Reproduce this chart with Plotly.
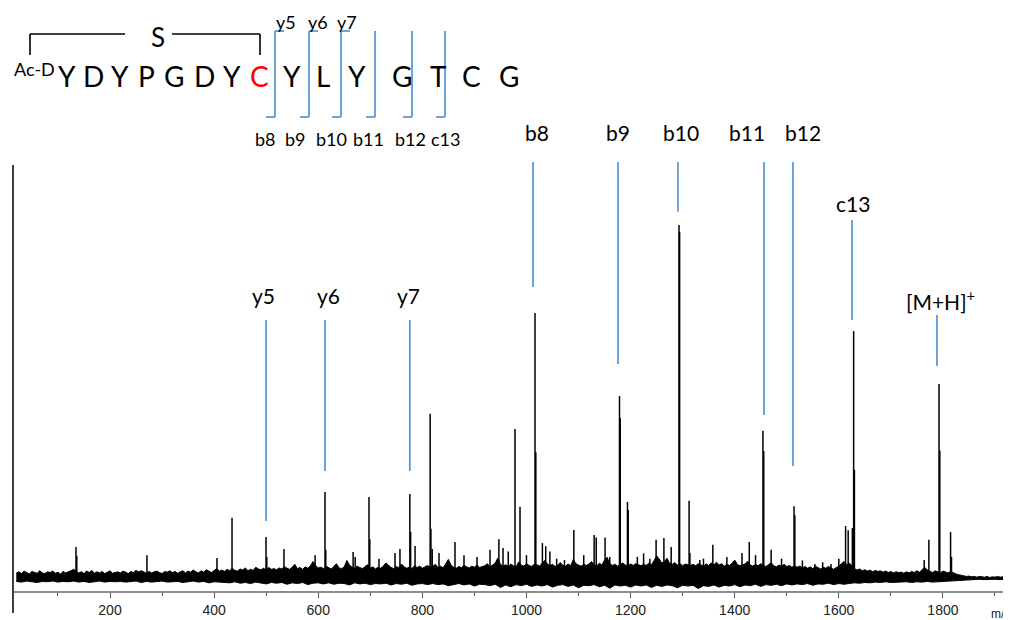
import plotly.graph_objects as go

# ---------------- data (relative intensity, b10 = 100) ----------------
# upper edge of the noise band
noise_mz = list(range(20, 1925, 5))
noise_int = [
    2.0, 2.3, 1.8, 2.5, 2.1, 1.7, 2.4, 2.2, 1.9, 2.6, 2.0, 1.8, 2.3, 2.1, 2.5, 1.9, 2.2, 1.7, 2.4, 2.0,
    2.2, 2.6, 3.0, 2.4, 2.0, 2.3, 1.8, 2.5, 2.1, 2.7, 1.9, 2.3, 2.0, 2.4, 1.8, 2.2, 2.6, 1.9, 2.1, 2.3,
    2.0, 2.5, 2.2, 1.8, 2.4, 2.1, 2.7, 2.3, 2.6, 2.2, 1.9, 2.4, 2.0, 2.3, 2.5, 2.1, 1.8, 2.4, 2.2, 2.6,
    2.1, 2.4, 1.9, 2.3, 2.6, 2.0, 2.5, 2.2, 2.8, 2.3, 2.0, 2.6, 2.2, 2.9, 2.4, 2.1, 2.7, 3.2, 2.5, 2.8,
    2.4, 3.0, 2.6, 3.3, 2.7, 2.5, 3.1, 2.8, 3.4, 2.6, 3.0, 2.7, 3.6, 3.1, 2.9, 3.3, 2.8, 3.5, 3.0, 3.2,
    2.9, 3.4, 3.1, 3.8, 3.3, 3.0, 3.6, 4.4, 3.2, 3.5, 3.0, 3.7, 3.3, 4.0, 5.2, 4.1, 3.4, 3.6, 3.2, 3.9,
    3.5, 3.1, 3.8, 4.6, 3.4, 3.2, 3.7, 5.5, 4.2, 3.6, 3.3, 3.9, 3.5, 3.2, 3.8, 4.3, 3.4, 3.7, 3.1, 3.6,
    3.3, 3.9, 4.8, 4.2, 3.5, 3.2, 3.8, 3.4, 4.5, 3.7, 3.3, 3.6, 3.2, 4.0, 3.5, 3.9, 3.3, 3.7, 4.1, 3.6,
    3.8, 4.4, 3.5, 3.9, 3.4, 4.6, 5.8, 4.2, 3.6, 3.3, 3.8, 3.5, 4.1, 3.7, 3.4, 3.9, 3.6, 4.3, 3.5, 3.8,
    4.0, 4.6, 3.7, 4.2, 4.8, 6.2, 4.4, 3.9, 4.3, 3.8, 4.5, 4.0, 3.7, 5.1, 4.2, 3.9, 4.6, 4.1, 3.8, 4.4,
    4.3, 3.9, 4.7, 5.5, 4.6, 4.0, 4.4, 3.8, 4.2, 4.9, 4.1, 3.9, 4.5, 4.0, 5.8, 4.6, 4.2, 3.9, 4.4, 4.1,
    4.5, 5.2, 4.3, 4.0, 4.7, 4.2, 5.6, 6.4, 4.6, 4.1, 4.4, 3.9, 4.3, 4.8, 4.2, 4.0, 4.5, 4.1, 4.6, 4.3,
    4.0, 4.4, 4.1, 4.7, 4.3, 5.4, 6.8, 5.9, 4.8, 5.2, 6.1, 4.7, 4.4, 4.9, 4.2, 4.6, 4.0, 4.5, 4.3, 4.1,
    4.4, 4.0, 4.6, 4.2, 3.9, 4.5, 4.1, 4.8, 4.3, 5.0, 4.2, 4.6, 3.9, 4.4, 4.1, 4.7, 5.6, 4.4, 4.0, 4.3,
    4.5, 5.3, 4.2, 3.9, 4.4, 4.0, 4.6, 4.1, 3.8, 4.3, 4.9, 4.0, 3.7, 4.2, 3.9, 4.4, 3.8, 4.1, 3.6, 4.0,
    3.6, 3.9, 3.4, 3.8, 3.3, 3.7, 3.2, 3.9, 3.5, 3.1, 3.6, 3.3, 3.8, 3.4, 3.0, 3.5, 3.9, 4.6, 5.2, 4.3,
    4.8, 4.0, 3.2, 2.8, 3.1, 2.6, 2.9, 2.5, 2.8, 2.3, 2.7, 2.4, 2.6, 2.2, 2.5, 2.1, 2.4, 2.0, 2.3, 2.1,
    2.2, 1.9, 2.3, 2.0, 2.4, 2.1, 2.6, 2.2, 2.9, 3.6, 2.8, 2.4, 2.1, 2.6, 2.3, 2.0, 2.5, 2.2, 2.0, 2.4,
    2.0, 1.7, 1.5, 1.3, 1.2, 1.0, 1.1, 0.9, 1.0, 0.8, 1.0, 0.9, 0.8, 1.0, 0.7, 0.9, 0.8, 1.0, 0.8, 0.9,
    0.8,
]
# lower edge of the noise band
floor_mz = list(range(20, 1925, 10))
floor_int = [
    -0.4, -0.6, -0.3, -0.5, -0.7, -0.4, -0.5, -0.3, -0.6, -0.4,
    -0.5, -0.3, -0.6, -0.4, -0.7, -0.5, -0.3, -0.6, -0.4, -0.5,
    -0.4, -0.6, -0.5, -0.3, -0.7, -0.4, -0.6, -0.5, -0.3, -0.6,
    -0.5, -0.4, -0.7, -0.5, -0.3, -0.6, -0.4, -0.8, -0.5, -0.6,
    -0.6, -0.8, -0.5, -0.9, -0.7, -1.0, -0.6, -0.8, -1.1, -0.7,
    -0.9, -0.7, -1.2, -0.8, -1.0, -0.7, -1.3, -0.9, -0.8, -1.1,
    -0.8, -1.2, -0.9, -1.0, -1.4, -0.8, -1.1, -0.9, -1.3, -1.0,
    -1.1, -0.9, -1.4, -1.0, -1.2, -0.9, -1.5, -1.1, -1.0, -1.3,
    -1.0, -1.3, -1.1, -1.6, -1.2, -1.0, -1.4, -1.1, -1.7, -1.2,
    -1.3, -1.6, -1.2, -2.1, -1.4, -1.9, -1.3, -1.6, -1.2, -1.8,
    -1.4, -1.7, -1.3, -2.0, -1.5, -1.3, -1.8, -1.4, -2.2, -1.5,
    -1.6, -1.3, -1.9, -1.5, -2.3, -1.4, -1.7, -1.5, -2.0, -1.4,
    -1.7, -1.4, -2.1, -1.5, -1.8, -1.4, -1.6, -2.2, -1.5, -1.7,
    -1.5, -2.4, -1.6, -1.8, -1.4, -2.0, -1.5, -1.7, -1.3, -1.9,
    -1.4, -1.6, -1.2, -1.8, -1.3, -1.5, -1.2, -1.6, -1.1, -1.4,
    -1.1, -1.3, -1.0, -1.5, -1.1, -1.2, -0.9, -1.3, -1.0, -1.2,
    -1.0, -0.8, -0.9, -0.7, -0.8, -0.6, -0.7, -0.5, -0.7, -0.6,
    -0.6, -0.5, -0.7, -0.5, -0.6, -0.4, -0.6, -0.5, -0.6, -0.4,
    -0.3, -0.1, 0.0, 0.1, 0.1, 0.2, 0.1, 0.2, 0.2, 0.1,
    0.2,
]

peak_mz = [134.7, 136.2, 271, 405.5, 434.4, 499.7, 501.2, 534.2, 594, 613, 614.5, 667, 671,
           697.5, 699, 716.7, 747.5, 757, 776, 777.5, 786, 815, 816.5, 819, 832, 862.7, 880,
           905, 930, 947, 955, 965, 978, 987.6, 1000, 1016.4, 1018, 1030.6, 1037, 1045, 1058,
           1073, 1091, 1110, 1130, 1134, 1151, 1160, 1178.7, 1180.2, 1194, 1195.5, 1213, 1225,
           1237, 1249, 1264, 1278, 1293, 1294.2, 1312.4, 1314, 1333, 1340, 1358, 1385, 1414,
           1428, 1440, 1454.3, 1455.8, 1470, 1490, 1514, 1515.5, 1530, 1554, 1569, 1585, 1600,
           1613, 1618, 1626, 1628.5, 1630, 1764, 1773, 1792.5, 1794, 1814.7, 1816.5]
peak_int = [9.3, 6.8, 7.0, 6.2, 17.5, 12.1, 6.5, 8.7, 7.0, 24.8, 8.5, 7.9, 6.5,
            23.4, 11.5, 6.0, 7.6, 8.7, 24.2, 13.5, 9.6, 46.8, 14.4, 8.7, 7.6, 10.7, 7.0,
            6.5, 8.5, 11.5, 9.0, 8.0, 42.5, 20.6, 7.0, 75.2, 36.0, 10.4, 9.5, 8.0, 6.0,
            5.6, 14.1, 7.0, 12.7, 12.0, 12.0, 6.5, 51.8, 45.6, 22.0, 19.7, 6.5, 7.5,
            6.0, 11.3, 11.8, 9.3, 100.0, 98.0, 22.3, 7.6, 5.6, 6.0, 9.9, 6.5, 7.6,
            10.7, 7.0, 42.0, 36.3, 8.5, 6.0, 20.8, 18.2, 5.5, 4.5, 5.0, 4.5, 6.0,
            15.2, 14.0, 14.6, 70.1, 31.0, 5.6, 11.3, 55.2, 36.5, 13.5, 6.5]

ion_labels = ["y5", "y6", "y7", "b8", "b9", "b10", "b11", "b12", "c13", "[M+H]<sup>+</sup>"]
ion_line_mz = [499.7, 613, 776, 1012.5, 1175.9, 1291, 1456.3, 1511.9, 1625.3, 1788.6]
ion_line_top = [73.2, 73.2, 73.2, 117.7, 117.7, 117.7, 117.7, 117.7, 101.4, 74.6]
ion_line_bottom = [16.6, 30.7, 30.7, 82.5, 60.8, 103.7, 46.5, 32.1, 73.2, 60.3]
ion_text_mz = [495.8, 618.8, 774.3, 1020.2, 1175.9, 1296.9, 1423.6, 1531.2, 1627.2, 1796]
ion_text_int = [80.0, 80.0, 80.0, 126.0, 126.0, 126.0, 126.0, 126.0, 106.0, 78.9]

x_ticks = [200, 400, 600, 800, 1000, 1200, 1400, 1600, 1800]

seq_letters = ["Y", "D", "Y", "P", "G", "D", "Y", "C", "Y", "L", "Y", "G", "T", "C", "G"]
seq_colors = ["black"] * 7 + ["red"] + ["black"] * 7
top_frag = ["y5", "y6", "y7"]
bottom_frag = ["b8", "b9", "b10", "b11", "b12", "c13"]

# ---------------- layout geometry ----------------
OFF = 8                       # page body margin of the html page
W, H = 1011 - OFF, 620 - OFF
ML, MR, MT, MB = 14 - OFF, 3, 150 - OFF, 29
XR = [15.6, 1925]
YR = [-3.1, 121.1]
BLUE = "#5b9bd5"
FONT = "Lato"


def px(xp, yp):
    """page pixel position -> paper coordinates (for the sequence drawing)"""
    return ((xp - OFF) - ML) / (W - ML - MR), ((H - MB) - (yp - OFF)) / (H - MT - MB)


def ypaper(v):
    return (v - YR[0]) / (YR[1] - YR[0])


fig = go.Figure()

fig.add_trace(go.Scatter(x=floor_mz, y=floor_int, mode="lines",
                         line=dict(color="black", width=1), hoverinfo="skip",
                         showlegend=False))
fig.add_trace(go.Scatter(x=noise_mz, y=noise_int, mode="lines", fill="tonexty",
                         fillcolor="black",
                         line=dict(color="black", width=1), hoverinfo="skip",
                         showlegend=False))

sx, sy = [], []
for m, v in zip(peak_mz, peak_int):
    sx += [m, m, None]
    sy += [0, v, None]
fig.add_trace(go.Scatter(x=sx, y=sy, mode="lines",
                         line=dict(color="black", width=1.5), hoverinfo="skip",
                         showlegend=False))

shapes = []
annotations = []

# ion marker lines and labels
for lab, lm, lt, lb, tm, ti in zip(ion_labels, ion_line_mz, ion_line_top, ion_line_bottom,
                                   ion_text_mz, ion_text_int):
    shapes.append(dict(type="line", xref="x", yref="y", x0=lm, x1=lm, y0=lb, y1=lt,
                       line=dict(color=BLUE, width=1.8)))
    annotations.append(dict(text=lab, xref="x", yref="paper", x=tm, y=ypaper(ti),
                            xanchor="center", yanchor="middle", showarrow=False,
                            font=dict(family=FONT, size=21, color="black")))

# left vertical axis line
x0p, y0p = px(13, 165)
_, y1p = px(13, 613)
shapes.append(dict(type="line", xref="paper", yref="paper", x0=x0p, x1=x0p, y0=y0p, y1=y1p,
                   line=dict(color="black", width=1.5)))

# m/z label
mx, my = px(1000, 614)
annotations.append(dict(text="m/z", xref="paper", yref="paper", x=mx, y=my,
                        xanchor="center", yanchor="middle", showarrow=False,
                        font=dict(family="Liberation Sans", size=12, color="#222")))

# ---------------- sequence drawing ----------------
seq_x = [67, 93, 120, 146, 174, 204, 232, 259, 292, 323, 357, 402, 438, 471, 509]
for L, c, xp in zip(seq_letters, seq_colors, seq_x):
    a, b = px(xp, 76)
    annotations.append(dict(text=L, xref="paper", yref="paper", x=a, y=b,
                            xanchor="center", yanchor="middle", showarrow=False,
                            font=dict(family=FONT, size=28, color=c)))
a, b = px(34, 69)
annotations.append(dict(text="Ac-D", xref="paper", yref="paper", x=a, y=b,
                        xanchor="center", yanchor="middle", showarrow=False,
                        font=dict(family=FONT, size=18, color="black")))
a, b = px(158, 37)
annotations.append(dict(text="S", xref="paper", yref="paper", x=a, y=b,
                        xanchor="center", yanchor="middle", showarrow=False,
                        font=dict(family=FONT, size=26, color="black")))
for t, xp in zip(top_frag, [286, 318, 347]):
    a, b = px(xp, 22)
    annotations.append(dict(text=t, xref="paper", yref="paper", x=a, y=b,
                            xanchor="center", yanchor="middle", showarrow=False,
                            font=dict(family=FONT, size=18, color="black")))
for t, xp in zip(bottom_frag, [265, 295, 331, 368, 410, 445]):
    a, b = px(xp, 139)
    annotations.append(dict(text=t, xref="paper", yref="paper", x=a, y=b,
                            xanchor="center", yanchor="middle", showarrow=False,
                            font=dict(family=FONT, size=18, color="black")))


def pline(x1, y1, x2, y2, color, width):
    a1, b1 = px(x1, y1)
    a2, b2 = px(x2, y2)
    shapes.append(dict(type="line", xref="paper", yref="paper", x0=a1, y0=b1, x1=a2, y1=b2,
                       line=dict(color=color, width=width)))


# disulfide bracket
pline(30, 34, 125, 34, "black", 1.6)
pline(172, 34, 260, 34, "black", 1.6)
pline(30, 34, 30, 55, "black", 1.6)
pline(260, 34, 260, 55, "black", 1.6)

# fragmentation brackets
cut_x = [275, 309, 341, 375, 412, 445]
for i, cx in enumerate(cut_x):
    pline(cx, 31, cx, 117, BLUE, 1.8)
    pline(cx - 9, 117, cx, 117, BLUE, 1.8)
    if i < 3:
        pline(cx, 31, cx + 9, 31, BLUE, 1.8)

fig.update_layout(
    width=W, height=H, autosize=False,
    margin=dict(l=ML, r=MR, t=MT, b=MB, pad=0),
    paper_bgcolor="white", plot_bgcolor="white",
    showlegend=False,
    shapes=shapes, annotations=annotations,
    xaxis=dict(range=XR, showgrid=False, zeroline=False, showline=True,
               linecolor="#8c8c8c", linewidth=2,
               ticks="outside", ticklen=5, tickwidth=1, tickcolor="#555",
               tickvals=x_ticks, ticktext=[str(v) for v in x_ticks],
               tickfont=dict(family="Liberation Sans", size=14, color="#222"),
               minor=dict(dtick=100, tick0=0, ticks="outside", ticklen=3,
                          tickwidth=1, tickcolor="#555")),
    yaxis=dict(range=YR, visible=False, showgrid=False, zeroline=False),
)

fig.write_html("out.html")
